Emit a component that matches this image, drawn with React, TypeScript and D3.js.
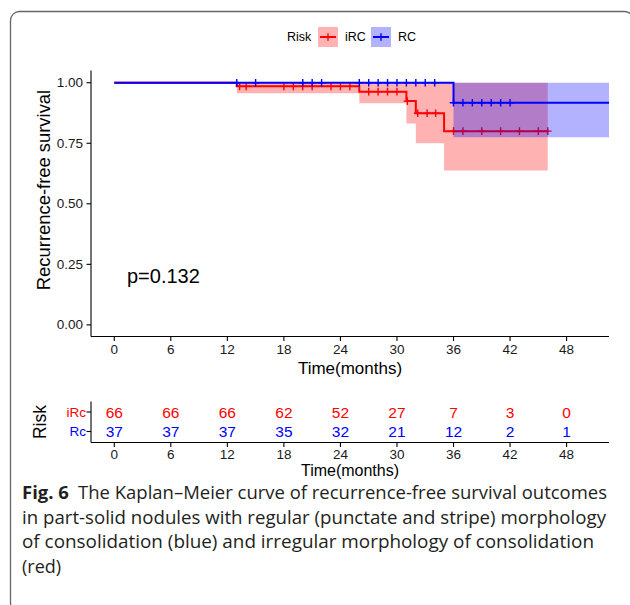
import React, { useRef, useEffect } from 'react'
import * as d3 from 'd3'

// step curves
const ircTimes = [0, 13, 26, 31, 32, 35, 46]
const ircSurv = [1, 0.985, 0.963, 0.924, 0.874, 0.8, 0.8]
const ircLower = [1, 0.956, 0.915, 0.832, 0.75, 0.637, 0.637]
const ircUpper = [1, 1, 1, 1, 1, 1, 1]
const ircCensor = [13.3, 14, 18, 19, 20, 21, 23, 24, 25, 27, 28, 29, 30, 31.1, 32.2, 33.2, 34.1, 36, 37, 39, 41, 43, 45, 46]

const rcTimes = [0, 36, 52.5]
const rcSurv = [1, 0.917, 0.917]
const rcLower = [1, 0.775, 0.775]
const rcUpper = [1, 1, 1]
const rcCensor = [13, 15, 20, 21, 22, 26, 27, 28, 29, 30, 31, 32, 33, 34, 36, 37, 38, 39, 40, 41, 42]

const timeTicks = [0, 6, 12, 18, 24, 30, 36, 42, 48]
const survTicks = [0, 0.25, 0.5, 0.75, 1]
const ircAtRisk = [66, 66, 66, 62, 52, 27, 7, 3, 0]
const rcAtRisk = [37, 37, 37, 35, 32, 21, 12, 2, 1]

const captionLines = [
    'in part-solid nodules with regular (punctate and stripe) morphology',
    'of consolidation (blue) and irregular morphology of consolidation',
    '(red)',
]

const RED = '#ff0000'
const BLUE = '#0000ff'
const FONT = '"Liberation Sans", Arial, sans-serif'

const App = () => {
    const svgRef = useRef(null)

    useEffect(() => {
        const svg = d3.select(svgRef.current)
        svg.selectAll('*').remove()

        // figure frame
        svg.append('rect')
            .attr('x', 10.5).attr('y', 11.5)
            .attr('width', 623).attr('height', 600)
            .attr('rx', 9)
            .attr('fill', 'none')
            .attr('stroke', '#666')
            .attr('stroke-width', 1.3)

        const x = d3.scaleLinear().domain([-2.47, 52.5]).range([91, 609])
        const y = d3.scaleLinear().domain([-0.05, 1.05]).range([337, 70.6])

        const stepAt = (times, surv, t) => {
            const i = d3.bisectRight(times, t) - 1
            return surv[Math.max(0, i)]
        }

        const curves = [
            { times: ircTimes, surv: ircSurv, lower: ircLower, upper: ircUpper, censor: ircCensor, color: RED },
            { times: rcTimes, surv: rcSurv, lower: rcLower, upper: rcUpper, censor: rcCensor, color: BLUE },
        ]

        const plot = svg.append('g')
        const line = d3.line().curve(d3.curveStepAfter)
        const area = d3.area().curve(d3.curveStepAfter)
        const cross = 'M-3.8,0H3.8M0,-3.8V3.8'

        curves.forEach((c) => {
            const pts = c.times.map((t, i) => i)
            plot.append('path')
                .attr('d', area
                    .x((i) => x(c.times[i]))
                    .y0((i) => y(c.lower[i]))
                    .y1((i) => y(c.upper[i]))(pts))
                .attr('fill', c.color)
                .attr('fill-opacity', 0.3)
            plot.append('path')
                .attr('d', line
                    .x((i) => x(c.times[i]))
                    .y((i) => y(c.surv[i]))(pts))
                .attr('fill', 'none')
                .attr('stroke', c.color)
                .attr('stroke-width', 2)
            plot.selectAll(null)
                .data(c.censor)
                .join('path')
                .attr('d', cross)
                .attr('transform', (t) => `translate(${x(t)},${y(stepAt(c.times, c.surv, t))})`)
                .attr('stroke', c.color)
                .attr('stroke-width', 1.4)
        })

        // main axes
        const axisG = svg.append('g').attr('font-family', FONT)
        axisG.append('line')
            .attr('x1', 91).attr('x2', 91).attr('y1', 70.6).attr('y2', 336.5)
            .attr('stroke', '#000').attr('stroke-width', 1.1)
        axisG.append('line')
            .attr('x1', 91).attr('x2', 609).attr('y1', 336.5).attr('y2', 336.5)
            .attr('stroke', '#000').attr('stroke-width', 1.1)
        survTicks.forEach((v) => {
            axisG.append('line')
                .attr('x1', 86.5).attr('x2', 91).attr('y1', y(v)).attr('y2', y(v))
                .attr('stroke', '#000').attr('stroke-width', 1.1)
            axisG.append('text')
                .attr('x', 83).attr('y', y(v))
                .attr('text-anchor', 'end')
                .attr('dominant-baseline', 'central')
                .attr('font-size', 13.5)
                .attr('fill', '#1a1a1a')
                .text(d3.format('.2f')(v))
        })
        timeTicks.forEach((t) => {
            axisG.append('line')
                .attr('x1', x(t)).attr('x2', x(t)).attr('y1', 336.5).attr('y2', 341)
                .attr('stroke', '#000').attr('stroke-width', 1.1)
            axisG.append('text')
                .attr('x', x(t)).attr('y', 349.5)
                .attr('text-anchor', 'middle')
                .attr('dominant-baseline', 'central')
                .attr('font-size', 13.5)
                .attr('fill', '#1a1a1a')
                .text(t)
        })
        axisG.append('text')
            .attr('x', 350).attr('y', 368.5)
            .attr('text-anchor', 'middle')
            .attr('dominant-baseline', 'central')
            .attr('font-size', 17)
            .text('Time(months)')
        axisG.append('text')
            .attr('transform', 'translate(43.5,190) rotate(-90)')
            .attr('text-anchor', 'middle')
            .attr('dominant-baseline', 'central')
            .attr('font-size', 18.4)
            .text('Recurrence-free survival')
        axisG.append('text')
            .attr('x', 127).attr('y', 276)
            .attr('dominant-baseline', 'central')
            .attr('font-size', 20)
            .text('p=0.132')

        // legend
        const leg = svg.append('g').attr('font-family', FONT).attr('font-size', 12.5)
        leg.append('text').attr('x', 287).attr('y', 37).attr('dominant-baseline', 'central').text('Risk')
        const keys = [
            { label: 'iRC', color: RED, x0: 318 },
            { label: 'RC', color: BLUE, x0: 371 },
        ]
        keys.forEach((k) => {
            leg.append('rect')
                .attr('x', k.x0).attr('y', 27).attr('width', 20).attr('height', 20)
                .attr('fill', k.color).attr('fill-opacity', 0.3)
            leg.append('line')
                .attr('x1', k.x0 + 2).attr('x2', k.x0 + 18).attr('y1', 37).attr('y2', 37)
                .attr('stroke', k.color).attr('stroke-width', 2)
            leg.append('path')
                .attr('d', cross).attr('transform', `translate(${k.x0 + 10},37)`)
                .attr('stroke', k.color).attr('stroke-width', 1.4)
            leg.append('text')
                .attr('x', k.x0 + 27).attr('y', 37)
                .attr('dominant-baseline', 'central')
                .text(k.label)
        })

        // risk table
        const tab = svg.append('g').attr('font-family', FONT)
        const rows = [
            { label: 'iRc', values: ircAtRisk, color: RED, yy: 412 },
            { label: 'Rc', values: rcAtRisk, color: BLUE, yy: 431.5 },
        ]
        tab.append('line')
            .attr('x1', 91).attr('x2', 91).attr('y1', 401.5).attr('y2', 442.5)
            .attr('stroke', '#000').attr('stroke-width', 1.1)
        tab.append('line')
            .attr('x1', 91).attr('x2', 609).attr('y1', 442.5).attr('y2', 442.5)
            .attr('stroke', '#000').attr('stroke-width', 1.1)
        rows.forEach((r) => {
            tab.append('line')
                .attr('x1', 86.5).attr('x2', 91).attr('y1', r.yy).attr('y2', r.yy)
                .attr('stroke', '#000').attr('stroke-width', 1.1)
            tab.append('text')
                .attr('x', 86).attr('y', r.yy)
                .attr('text-anchor', 'end')
                .attr('dominant-baseline', 'central')
                .attr('font-size', 13.5)
                .attr('fill', r.color)
                .text(r.label)
            tab.selectAll(null)
                .data(r.values)
                .join('text')
                .attr('x', (_, i) => x(timeTicks[i]))
                .attr('y', r.yy)
                .attr('text-anchor', 'middle')
                .attr('dominant-baseline', 'central')
                .attr('font-size', 15.5)
                .attr('fill', r.color)
                .text((d) => d)
        })
        timeTicks.forEach((t) => {
            tab.append('line')
                .attr('x1', x(t)).attr('x2', x(t)).attr('y1', 442.5).attr('y2', 447)
                .attr('stroke', '#000').attr('stroke-width', 1.1)
            tab.append('text')
                .attr('x', x(t)).attr('y', 454.5)
                .attr('text-anchor', 'middle')
                .attr('dominant-baseline', 'central')
                .attr('font-size', 13.5)
                .attr('fill', '#1a1a1a')
                .text(t)
        })
        tab.append('text')
            .attr('x', 350).attr('y', 470)
            .attr('text-anchor', 'middle')
            .attr('dominant-baseline', 'central')
            .attr('font-size', 16)
            .text('Time(months)')
        tab.append('text')
            .attr('transform', 'translate(40,422) rotate(-90)')
            .attr('text-anchor', 'middle')
            .attr('dominant-baseline', 'central')
            .attr('font-size', 17.5)
            .text('Risk')

        // caption
        const cap = svg.append('g')
            .attr('font-family', '"Open Sans", "Noto Sans", sans-serif')
            .attr('font-size', 18)
            .attr('fill', '#231f20')
        const first = cap.append('text')
            .attr('x', 22).attr('y', 499)
            .attr('textLength', 585)
            .attr('lengthAdjust', 'spacingAndGlyphs')
        first.append('tspan').attr('font-weight', 'bold').text('Fig. 6')
        first.append('tspan').text('\u2002The Kaplan\u2013Meier curve of recurrence-free survival outcomes')
        const widths = [584, 572, null]
        captionLines.forEach((l, i) => {
            const t = cap.append('text')
                .attr('x', 22).attr('y', 523.5 + i * 24.8)
                .text(l)
            if (widths[i]) t.attr('textLength', widths[i]).attr('lengthAdjust', 'spacingAndGlyphs')
        })
    }, [])

    return (
        <svg
            ref={svgRef}
            width={630}
            height={605}
            style={{ position: 'absolute', left: 0, top: 0, background: '#fff' }}
        ></svg>
    )
}

export default App
